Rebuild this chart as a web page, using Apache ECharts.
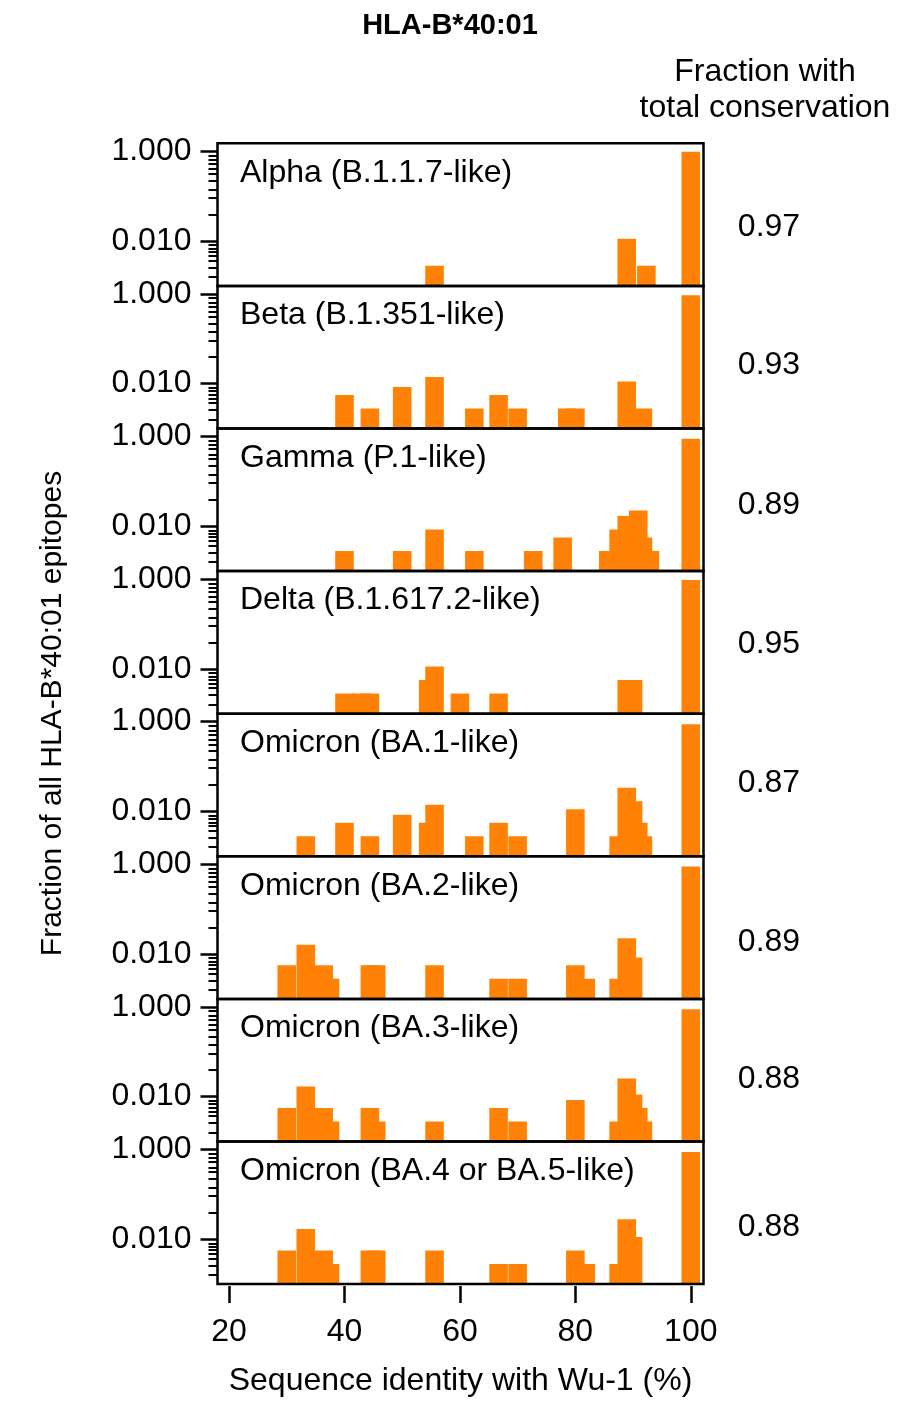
<!DOCTYPE html>
<html lang="en">

<head>
    <meta charset="UTF-8">
    <meta name="viewport" content="width=device-width, initial-scale=1.0">
    <title>HLA-B*40:01</title>
    <script src="https://cdn.jsdelivr.net/npm/echarts/dist/echarts.min.js"></script>
    <style>
        html, body { margin: 0; padding: 0; background: #fff; }
    </style>
</head>

<body>
    <div id="main" style="width: 910px; height: 1418px;"></div>
    <script type="text/javascript">
        // each point: [sequence identity with Wu-1 (%), fraction of epitopes]
        var variantNames = [
            'Alpha (B.1.1.7-like)',
            'Beta (B.1.351-like)',
            'Gamma (P.1-like)',
            'Delta (B.1.617.2-like)',
            'Omicron (BA.1-like)',
            'Omicron (BA.2-like)',
            'Omicron (BA.3-like)',
            'Omicron (BA.4 or BA.5-like)'
        ];
        var conservation = [0.97, 0.93, 0.89, 0.95, 0.87, 0.89, 0.88, 0.88];

        var alpha = [[55.6, 0.0028], [88.9, 0.0112], [92.3, 0.0028], [100, 0.97]];
        var beta = [[40, 0.0056], [44.4, 0.0028], [50, 0.0084], [55.6, 0.0140], [62.5, 0.0028],
            [66.7, 0.0056], [70, 0.0028], [78.6, 0.0028], [80, 0.0028], [88.9, 0.0112],
            [91.7, 0.0028], [100, 0.93]];
        var gamma = [[40, 0.0028], [50, 0.0028], [55.6, 0.0084], [62.5, 0.0028], [72.7, 0.0028],
            [77.8, 0.0056], [85.7, 0.0028], [87.5, 0.0084], [88.9, 0.0168], [90.9, 0.0224],
            [91.7, 0.0056], [92.9, 0.0028], [100, 0.89]];
        var delta = [[40, 0.0028], [42.9, 0.0028], [44.4, 0.0028], [54.5, 0.0056], [55.6, 0.0112],
            [60, 0.0028], [66.7, 0.0028], [88.9, 0.0056], [90, 0.0056], [100, 0.95]];
        var ba1 = [[33.3, 0.0028], [40, 0.0056], [44.4, 0.0028], [50, 0.0084], [54.5, 0.0056],
            [55.6, 0.0140], [62.5, 0.0028], [66.7, 0.0056], [70, 0.0028], [80, 0.0112],
            [87.5, 0.0028], [88.9, 0.0336], [90, 0.0168], [90.9, 0.0056], [91.7, 0.0028], [100, 0.87]];
        var ba2 = [[30, 0.0056], [33.3, 0.0160], [36.4, 0.0056], [37.5, 0.0028], [44.4, 0.0056],
            [45.5, 0.0056], [55.6, 0.0056], [66.7, 0.0028], [70, 0.0028], [80, 0.0056],
            [81.8, 0.0028], [87.5, 0.0028], [88.9, 0.0224], [90, 0.0084], [100, 0.89]];
        var ba3 = [[30, 0.0056], [33.3, 0.0168], [36.4, 0.0056], [37.5, 0.0028], [44.4, 0.0056],
            [45.5, 0.0028], [55.6, 0.0028], [66.7, 0.0056], [70, 0.0028], [80, 0.0084],
            [87.5, 0.0028], [88.9, 0.0252], [90, 0.0112], [90.9, 0.0056], [91.7, 0.0028], [100, 0.88]];
        var ba45 = [[30, 0.0056], [33.3, 0.0168], [36.4, 0.0056], [37.5, 0.0028], [44.4, 0.0056],
            [45.5, 0.0056], [55.6, 0.0056], [66.7, 0.0028], [70, 0.0028], [80, 0.0056],
            [81.8, 0.0028], [87.5, 0.0028], [88.9, 0.0280], [90, 0.0112], [100, 0.88]];
        var panels = [alpha, beta, gamma, delta, ba1, ba2, ba3, ba45];

        var xTicks = [20, 40, 60, 80, 100];
        var yMajorTicks = [0.01, 1];
        var yMinorTicks = [0.0016, 0.0026, 0.0037, 0.0047, 0.0057, 0.0068, 0.0081,
            0.039, 0.092, 0.14, 0.22, 0.31, 0.40, 0.52, 0.64, 0.80];

        // layout
        var binWidth = 3.22;            // bar width, % identity
        var xMin = 18, xMax = 102.2;
        var yMin = 0.001, yMax = 1.5;
        var plotLeft = 217.5, plotRight = 703.5;
        var plotTop = 143.3, panelH = 142.6;
        var noteY = [227, 365, 505, 644, 783, 942, 1079, 1227];
        var barColor = '#ff8206';
        var font = 'Arial, "Liberation Sans", sans-serif';
        var fs = 32;

        var myChart = echarts.init(document.getElementById('main'));

        var grids = [], xAxes = [], yAxes = [], series = [], texts = [];
        panels.forEach(function (data, i) {
            var last = i === panels.length - 1;
            grids.push({
                left: plotLeft, right: 910 - plotRight,
                top: plotTop + i * panelH, height: panelH,
                show: true, borderColor: '#000', borderWidth: 2.5,
                backgroundColor: 'transparent', z: 10
            });
            xAxes.push({
                type: 'value', gridIndex: i, min: xMin, max: xMax,
                position: 'bottom', offset: last ? 2 : 0,
                name: last ? 'Sequence identity with Wu-1 (%)' : '',
                nameLocation: 'middle', nameGap: 79,
                nameTextStyle: { color: '#000', fontSize: fs, fontFamily: font },
                axisLine: { show: false, onZero: false },
                splitLine: { show: false },
                axisTick: {
                    show: last, length: 17, customValues: xTicks,
                    lineStyle: { color: '#000', width: 2.5 }
                },
                axisLabel: {
                    show: last, customValues: xTicks, margin: 30,
                    color: '#000', fontSize: fs, fontFamily: font
                }
            });
            // log axis that places the bars
            yAxes.push({
                type: 'log', gridIndex: i, min: yMin, max: yMax,
                position: 'left', show: false
            });
            // major ticks + labels
            yAxes.push({
                type: 'value', gridIndex: i, position: 'left',
                min: Math.log10(yMin), max: Math.log10(yMax),
                axisLine: { show: false, onZero: false },
                splitLine: { show: false },
                axisTick: {
                    length: 17, customValues: yMajorTicks.map(Math.log10),
                    lineStyle: { color: '#000', width: 2.5 }
                },
                axisLabel: {
                    customValues: yMajorTicks.map(Math.log10), margin: 26,
                    color: '#000', fontSize: fs, fontFamily: font,
                    formatter: function (v) { return Math.pow(10, v).toFixed(3); }
                }
            });
            // minor ticks
            yAxes.push({
                type: 'value', gridIndex: i, position: 'left',
                min: Math.log10(yMin), max: Math.log10(yMax),
                axisLine: { show: false, onZero: false },
                splitLine: { show: false },
                axisLabel: { show: false },
                axisTick: {
                    length: 9, customValues: yMinorTicks.map(Math.log10),
                    lineStyle: { color: '#000', width: 2 }
                }
            });
            series.push({
                type: 'custom',
                name: variantNames[i],
                xAxisIndex: i, yAxisIndex: i * 3,
                clip: true,
                data: data,
                renderItem: function (params, api) {
                    var x = api.value(0), v = api.value(1);
                    var p0 = api.coord([x - binWidth / 2, v]);
                    var p1 = api.coord([x + binWidth / 2, yMin]);
                    return {
                        type: 'rect',
                        shape: { x: p0[0], y: p0[1], width: p1[0] - p0[0], height: p1[1] - p0[1] },
                        style: { fill: barColor }
                    };
                }
            });
            texts.push({
                type: 'text', x: 240, y: plotTop + i * panelH + 29.5, z: 20,
                style: {
                    text: variantNames[i], fill: '#000', font: fs + 'px ' + font,
                    textAlign: 'left', textVerticalAlign: 'middle'
                }
            });
            texts.push({
                type: 'text', x: 769, y: noteY[i],
                style: {
                    text: conservation[i].toFixed(2), fill: '#000', font: fs + 'px ' + font,
                    textAlign: 'center', textVerticalAlign: 'middle'
                }
            });
        });

        texts.push({
            type: 'text', x: 450, y: 26,
            style: {
                text: 'HLA-B*40:01', fill: '#000', font: 'bold 29px ' + font,
                textAlign: 'center', textVerticalAlign: 'middle'
            }
        });
        texts.push({
            type: 'text', x: 765, y: 72,
            style: {
                text: 'Fraction with', fill: '#000', font: fs + 'px ' + font,
                textAlign: 'center', textVerticalAlign: 'middle'
            }
        });
        texts.push({
            type: 'text', x: 765, y: 108,
            style: {
                text: 'total conservation', fill: '#000', font: fs + 'px ' + font,
                textAlign: 'center', textVerticalAlign: 'middle'
            }
        });
        texts.push({
            type: 'text', x: 53, y: 713.5, rotation: Math.PI / 2,
            style: {
                text: 'Fraction of all HLA-B*40:01 epitopes', fill: '#000', font: '30px ' + font,
                textAlign: 'center', textVerticalAlign: 'middle'
            }
        });

        option = {
            animation: false,
            backgroundColor: '#fff',
            grid: grids,
            xAxis: xAxes,
            yAxis: yAxes,
            series: series,
            graphic: texts
        };

        myChart.setOption(option);
    </script>
</body>

</html>
